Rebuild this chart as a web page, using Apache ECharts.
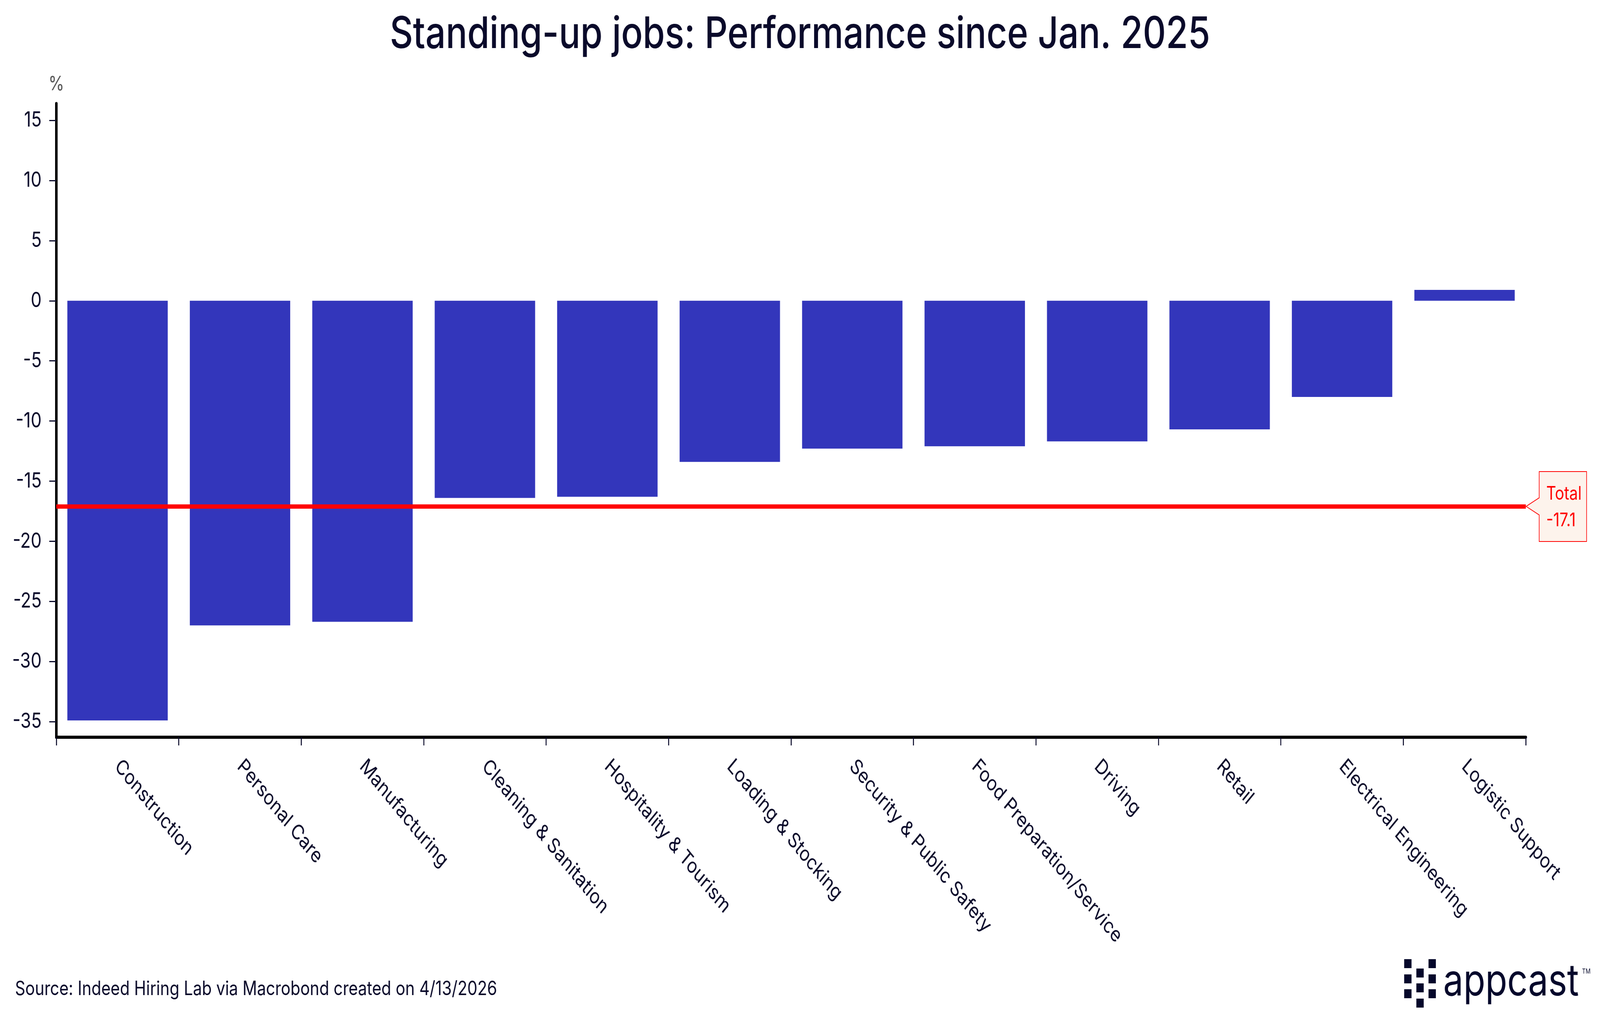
<!DOCTYPE html>
<html>
<head>
<meta charset="utf-8">
<script src="https://cdn.jsdelivr.net/npm/echarts@6/dist/echarts.min.js"></script>
<style>
html,body{margin:0;padding:0;background:#fff;overflow:hidden;}
#chart{width:5000px;height:2621px;transform-origin:0 0;}
</style>
</head>
<body>
<div id="chart"></div>
<script>
// ---- Data ----
const TITLE = 'Standing-up jobs: Performance since Jan. 2025';
const SOURCE = 'Source: Indeed Hiring Lab via Macrobond created on 4/13/2026';
const CATEGORIES = ['Construction','Personal Care','Manufacturing','Cleaning & Sanitation','Hospitality & Tourism','Loading & Stocking','Security & Public Safety','Food Preparation/Service','Driving','Retail','Electrical Engineering','Logistic Support'];
const VALUES = [-34.9, -27.0, -26.7, -16.4, -16.3, -13.4, -12.3, -12.1, -11.7, -10.7, -8.0, 0.9];
const TOTAL = -17.1;
const TOTAL_LABEL = 'Total';
const Y_TICKS = [-35, -30, -25, -20, -15, -10, -5, 0, 5, 10, 15];
const Y_MIN = -36.3;
const Y_MAX = 16.4;
const Y_UNIT = '%';

// ---- Style / layout (reference pixels; the page is fitted to the window) ----
const NAVY = '#0a0a2a';
const BAR = '#3336bb';
const RED = '#ff0000';
const LOGO = '#05082b';
const FONT = 'Inter, "Noto Sans", sans-serif';
const W = 5000, H = 2621;
const GRID = {left:176, right:232, top:265, bottom:734};

const el = document.getElementById('chart');
el.style.transform = 'scale(' + (window.innerWidth / W) + ',' + (window.innerHeight / H) + ')';

const chart = echarts.init(el, null, {renderer:'canvas', width:W, height:H});

chart.setOption({
  backgroundColor:'#ffffff',
  animation:false,
  textStyle:{fontFamily:FONT},
  title:{
    text:TITLE, left:'center', top:28,
    textStyle:{fontFamily:FONT, fontSize:112, fontWeight:500, color:NAVY}
  },
  grid:{left:GRID.left, right:GRID.right, top:GRID.top, bottom:GRID.bottom, containLabel:false, outerBoundsMode:'none'},
  xAxis:{
    type:'category', data:CATEGORIES,
    axisLine:{show:true, onZero:false, lineStyle:{color:'#000', width:8}},
    axisTick:{show:true, length:21, lineStyle:{color:NAVY, width:3}},
    axisLabel:{rotate:-45, interval:0, fontSize:53, color:NAVY, margin:66, fontFamily:FONT}
  },
  yAxis:{
    type:'value', min:Y_MIN, max:Y_MAX,
    name:Y_UNIT, nameLocation:'end', nameGap:24,
    nameTextStyle:{color:'#555', fontSize:50, fontFamily:FONT, align:'center'},
    axisLine:{show:true, lineStyle:{color:'#000', width:8}},
    axisTick:{show:true, length:22, lineStyle:{color:NAVY, width:3}, customValues:Y_TICKS},
    axisLabel:{customValues:Y_TICKS, fontSize:54, color:NAVY, margin:46, fontFamily:FONT},
    splitLine:{show:false}
  },
  series:[
    {
      type:'line', data:[], z:1, silent:true,
      markLine:{
        silent:true, symbol:'none', animation:false,
        label:{show:false},
        lineStyle:{color:RED, width:11, type:'solid'},
        data:[{yAxis:TOTAL}]
      }
    },
    {
      type:'bar', data:VALUES, z:3, barCategoryGap:'18%',
      itemStyle:{color:BAR}
    }
  ]
});

// ---- Callout for Total (placed through the axis scale), source and logo ----
const yPix = chart.convertToPixel({yAxisIndex:0}, TOTAL);
const tipX = W - GRID.right + 1;
const logoSq = 23;
const logoCols = [4388, 4426, 4464];
const logoRowsA = [2455, 2494, 2532];
const logoRowsB = [2479, 2517, 2556];
const logoEls = [];
const sq = (x, y) => ({type:'rect', shape:{x:x, y:y, width:logoSq, height:logoSq}, style:{fill:LOGO}});
logoRowsA.forEach(y => { logoEls.push(sq(logoCols[0], y)); logoEls.push(sq(logoCols[2], y)); });
logoRowsB.forEach(y => { logoEls.push(sq(logoCols[1], y)); });

chart.setOption({
  graphic:[
    {type:'text', x:47, y:2532, style:{text:SOURCE, fontSize:50, fill:NAVY, fontFamily:FONT, verticalAlign:'middle'}},
    {
      type:'group', x:tipX, y:yPix, z:100,
      children:[
        {type:'polygon', shape:{points:[[0,0],[41,-22],[41,-89],[189,-89],[189,90],[41,90],[41,22]]}, style:{fill:'#fdf3ec', stroke:RED, lineWidth:2}},
        {type:'text', x:63, y:2, style:{text:TOTAL_LABEL + '\n' + TOTAL.toFixed(1), fontSize:48, lineHeight:68, fill:RED, fontFamily:FONT, verticalAlign:'middle', align:'left'}}
      ]
    },
    {type:'group', z:100, children: logoEls.concat([
      {type:'text', x:4510, y:2514, style:{text:'appcast', fontSize:112, fill:LOGO, fontFamily:FONT, fontWeight:400, verticalAlign:'middle'}},
      {type:'text', x:4944, y:2478, style:{text:'TM', fontSize:17, fill:LOGO, fontFamily:FONT}}
    ])}
  ]
});
</script>
</body>
</html>
